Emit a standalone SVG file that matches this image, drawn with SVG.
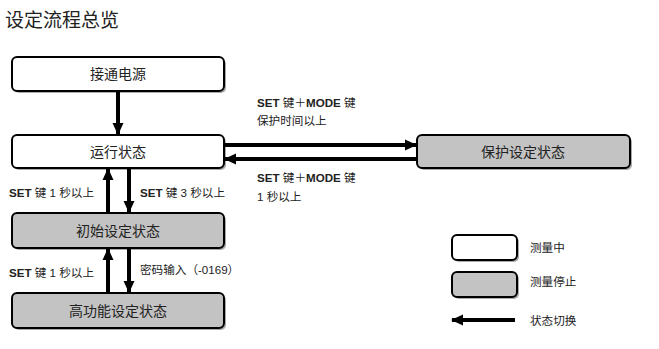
<svg xmlns="http://www.w3.org/2000/svg" width="659" height="349" viewBox="0 0 659 349">
<style>
text{font-family:"Liberation Sans","Noto Sans CJK SC",sans-serif;fill:#222}
.title{font-size:19px}
.nl{font-size:14px;text-anchor:middle}
.lb{font-size:11.6px}
.b{font-weight:bold}
.box{stroke:#000;stroke-width:2}
.w{fill:#fff}
.g{fill:#c3c3c3}
.sh{fill:#aaa}
.ln{stroke:#000;stroke-width:4;fill:none}
</style>
<defs>
<marker id="ah" markerUnits="userSpaceOnUse" markerWidth="12" markerHeight="12" refX="11" refY="6" orient="auto">
<path d="M0,0.5 L12,6 L0,11.5 Z" fill="#000"/>
</marker>
</defs>
<rect width="659" height="349" fill="#fff"/>
<text class="title" x="5" y="27">设定流程总览</text>

<g id="node-power">
<rect class="sh" x="14" y="59" width="212" height="34" rx="5"/>
<rect class="box w" x="12" y="57" width="212" height="34" rx="5"/>
<text class="nl" x="118" y="79">接通电源</text>
</g>
<g id="node-run">
<rect class="sh" x="14" y="137" width="212" height="33" rx="5"/>
<rect class="box w" x="12" y="135" width="212" height="33" rx="5"/>
<text class="nl" x="118" y="157">运行状态</text>
</g>
<g id="node-protect">
<rect class="sh" x="419" y="137" width="213" height="33" rx="5"/>
<rect class="box g" x="417" y="135" width="213" height="33" rx="5"/>
<text class="nl" x="523" y="157">保护设定状态</text>
</g>
<g id="node-init">
<rect class="sh" x="14" y="215" width="212" height="35" rx="5"/>
<rect class="box g" x="12" y="213" width="212" height="35" rx="5"/>
<text class="nl" x="118" y="236">初始设定状态</text>
</g>
<g id="node-adv">
<rect class="sh" x="14" y="295" width="212" height="35" rx="5"/>
<rect class="box g" x="12" y="293" width="212" height="35" rx="5"/>
<text class="nl" x="118" y="316">高功能设定状态</text>
</g>

<g id="connectors">
<line class="ln" x1="118" y1="91" x2="118" y2="134" marker-end="url(#ah)"/>
<line class="ln" x1="224" y1="145" x2="416" y2="145" marker-end="url(#ah)"/>
<line class="ln" x1="417" y1="159" x2="225" y2="159" marker-end="url(#ah)"/>
<line class="ln" x1="108" y1="213" x2="108" y2="169" marker-end="url(#ah)"/>
<line class="ln" x1="129" y1="168" x2="129" y2="212" marker-end="url(#ah)"/>
<line class="ln" x1="108" y1="293" x2="108" y2="249" marker-end="url(#ah)"/>
<line class="ln" x1="129" y1="248" x2="129" y2="292" marker-end="url(#ah)"/>
</g>

<g id="labels">
<text class="lb" x="257" y="107"><tspan class="b">SET</tspan> 键＋<tspan class="b">MODE</tspan> 键</text>
<text class="lb" x="257" y="125">保护时间以上</text>
<text class="lb" x="257" y="182"><tspan class="b">SET</tspan> 键＋<tspan class="b">MODE</tspan> 键</text>
<text class="lb" x="257" y="201">1 秒以上</text>
<text class="lb" x="9" y="197"><tspan class="b">SET</tspan> 键 1 秒以上</text>
<text class="lb" x="140" y="197"><tspan class="b">SET</tspan> 键 3 秒以上</text>
<text class="lb" x="9" y="277"><tspan class="b">SET</tspan> 键 1 秒以上</text>
<text class="lb" x="140" y="274">密码输入（-0169）</text>
</g>

<g id="legend">
<rect class="sh" x="454" y="237" width="65" height="25" rx="5"/>
<rect class="box w" x="452" y="235" width="65" height="25" rx="5"/>
<text class="lb" x="530" y="252">测量中</text>
<rect class="sh" x="454" y="274" width="65" height="25" rx="5"/>
<rect class="box g" x="452" y="272" width="65" height="25" rx="5"/>
<text class="lb" x="530" y="286">测量停止</text>
<line class="ln" x1="515" y1="320" x2="452" y2="320" marker-end="url(#ah)"/>
<text class="lb" x="530" y="325">状态切换</text>
</g>
</svg>
